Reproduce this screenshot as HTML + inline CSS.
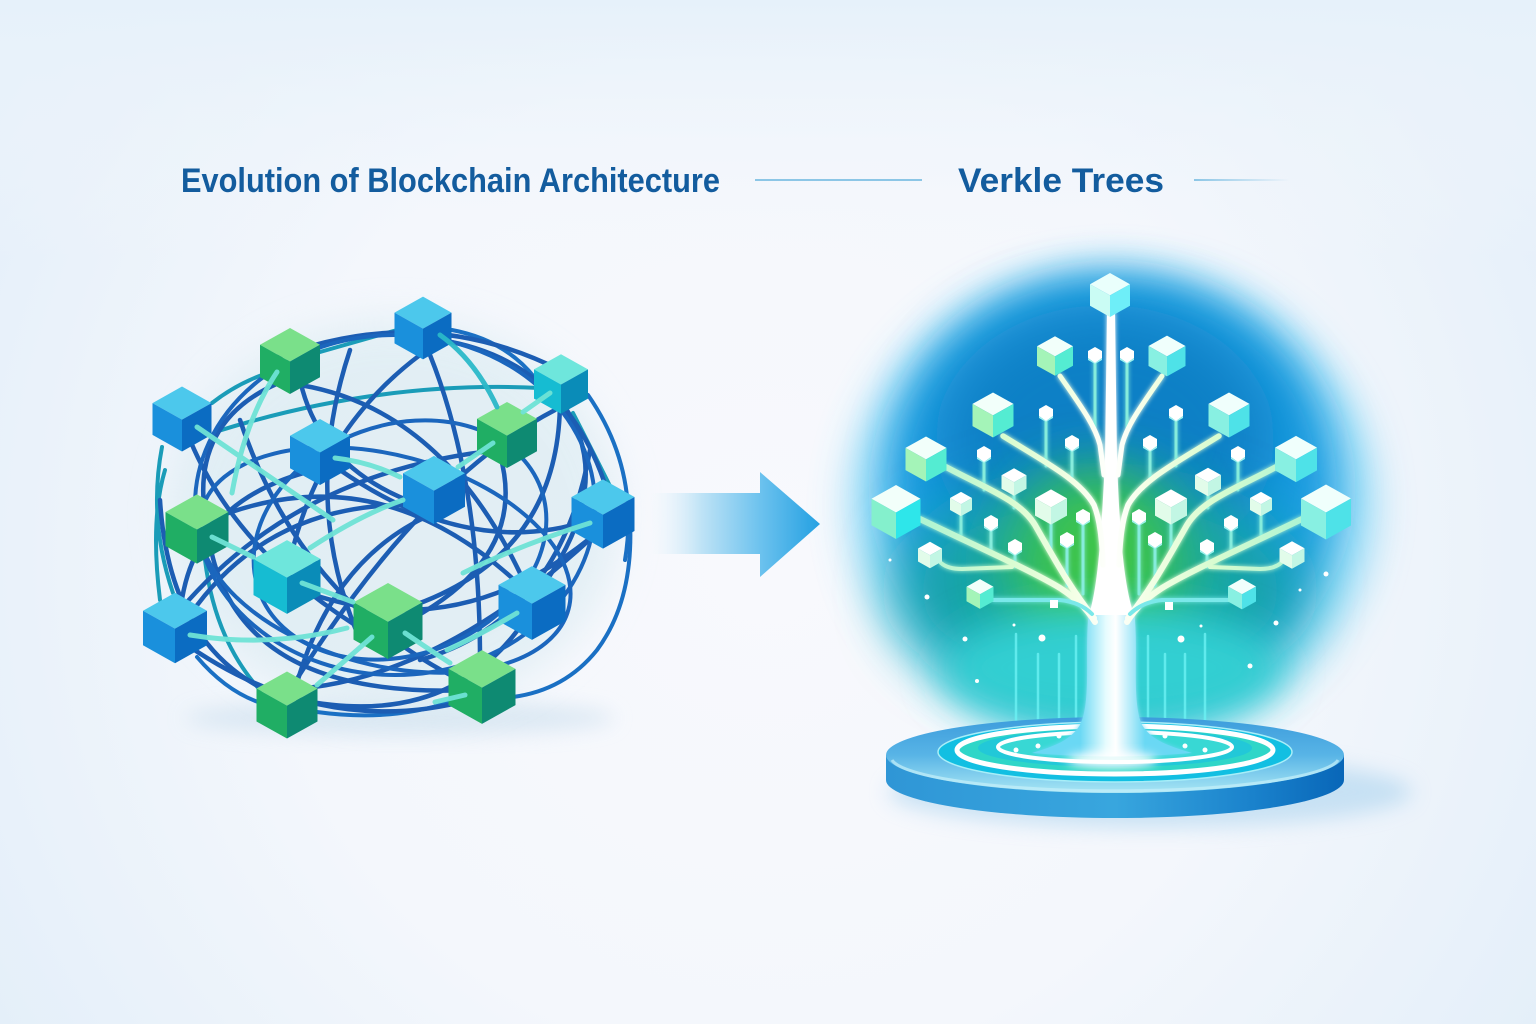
<!DOCTYPE html>
<html><head><meta charset="utf-8">
<style>
html,body{margin:0;padding:0;width:1536px;height:1024px;overflow:hidden;}
body{background:#f4f7fc;}
svg{display:block;}
</style></head>
<body>
<svg width="1536" height="1024" viewBox="0 0 1536 1024" xmlns="http://www.w3.org/2000/svg">
<defs>
  <radialGradient id="bg" cx="768" cy="560" r="900" gradientUnits="userSpaceOnUse">
    <stop offset="0" stop-color="#f8f9fd"/>
    <stop offset="0.55" stop-color="#f4f7fc"/>
    <stop offset="1" stop-color="#e4eff9"/>
  </radialGradient>
  <linearGradient id="topband" x1="0" y1="0" x2="0" y2="1">
    <stop offset="0" stop-color="#e6f1fa"/>
    <stop offset="1" stop-color="#f4f7fc" stop-opacity="0"/>
  </linearGradient>
  <filter id="b30" x="-50%" y="-50%" width="200%" height="200%"><feGaussianBlur stdDeviation="30"/></filter>
  <filter id="b20" x="-50%" y="-50%" width="200%" height="200%"><feGaussianBlur stdDeviation="20"/></filter>
  <filter id="b10" x="-50%" y="-50%" width="200%" height="200%"><feGaussianBlur stdDeviation="10"/></filter>
  <filter id="b5" x="-50%" y="-50%" width="200%" height="200%"><feGaussianBlur stdDeviation="5"/></filter>
  <filter id="glow" x="-20%" y="-20%" width="140%" height="140%">
    <feGaussianBlur stdDeviation="2.5" result="bl"/>
    <feMerge><feMergeNode in="bl"/><feMergeNode in="SourceGraphic"/></feMerge>
  </filter>
  <linearGradient id="arrg" x1="650" y1="0" x2="820" y2="0" gradientUnits="userSpaceOnUse">
    <stop offset="0" stop-color="#e6f3fb" stop-opacity="0"/>
    <stop offset="0.3" stop-color="#bfe3f6"/>
    <stop offset="0.65" stop-color="#6cc2ee"/>
    <stop offset="1" stop-color="#24a0e2"/>
  </linearGradient>
  <linearGradient id="rline" x1="1194" y1="0" x2="1290" y2="0" gradientUnits="userSpaceOnUse">
    <stop offset="0" stop-color="#8cc6e6"/>
    <stop offset="1" stop-color="#8cc6e6" stop-opacity="0"/>
  </linearGradient>
  <linearGradient id="brg" x1="880" y1="0" x2="1110" y2="0" gradientUnits="userSpaceOnUse">
    <stop offset="0" stop-color="#9af0d4"/>
    <stop offset="0.55" stop-color="#d8fcd0"/>
    <stop offset="0.85" stop-color="#f4ffe6"/>
    <stop offset="1" stop-color="#ffffff"/>
  </linearGradient>
  <linearGradient id="trunkg" x1="1080" y1="0" x2="1145" y2="0" gradientUnits="userSpaceOnUse">
    <stop offset="0" stop-color="#6ad8f4"/>
    <stop offset="0.4" stop-color="#e6fcfe"/>
    <stop offset="0.55" stop-color="#ffffff"/>
    <stop offset="1" stop-color="#6ad8f4"/>
  </linearGradient>
  <linearGradient id="sideg" x1="886" y1="0" x2="1344" y2="0" gradientUnits="userSpaceOnUse">
    <stop offset="0" stop-color="#2f96d6"/>
    <stop offset="0.5" stop-color="#38a6de"/>
    <stop offset="0.8" stop-color="#1a82cc"/>
    <stop offset="1" stop-color="#0866b8"/>
  </linearGradient>
  <linearGradient id="topg" x1="0" y1="717" x2="0" y2="793" gradientUnits="userSpaceOnUse">
    <stop offset="0" stop-color="#3c9cdc"/>
    <stop offset="0.5" stop-color="#58b4e6"/>
    <stop offset="1" stop-color="#a8e6f4"/>
  </linearGradient>

  <g id="cBlue"><polygon points="0,-55 50,-27 0,1 -50,-27" fill="#4cc8ec"/><polygon points="-50,-27 0,1 0,55 -50,27" fill="#1a90dc"/><polygon points="50,-27 0,1 0,55 50,27" fill="#0b6cc2"/></g>
  <g id="cGreen"><polygon points="0,-55 50,-27 0,1 -50,-27" fill="#7ae08a"/><polygon points="-50,-27 0,1 0,55 -50,27" fill="#20ae64"/><polygon points="50,-27 0,1 0,55 50,27" fill="#0e8a72"/></g>
  <g id="cCyan"><polygon points="0,-55 50,-27 0,1 -50,-27" fill="#6ee6dc"/><polygon points="-50,-27 0,1 0,55 -50,27" fill="#16bcd2"/><polygon points="50,-27 0,1 0,55 50,27" fill="#0a8cb8"/></g>
  <g id="tL"><polygon points="0,-55 50,-27 0,1 -50,-27" fill="#f2fffa"/><polygon points="-50,-27 0,1 0,55 -50,27" fill="#a4f4b8"/><polygon points="50,-27 0,1 0,55 50,27" fill="#54ecd2"/></g>
  <g id="tF"><polygon points="0,-55 50,-27 0,1 -50,-27" fill="#f2fffa"/><polygon points="-50,-27 0,1 0,55 -50,27" fill="#84f0cc"/><polygon points="50,-27 0,1 0,55 50,27" fill="#2ee6ea"/></g>
  <g id="tR"><polygon points="0,-55 50,-27 0,1 -50,-27" fill="#f0fffc"/><polygon points="-50,-27 0,1 0,55 -50,27" fill="#88f0e2"/><polygon points="50,-27 0,1 0,55 50,27" fill="#4ee2e8"/></g>
  <g id="tP"><polygon points="0,-55 50,-27 0,1 -50,-27" fill="#ffffff"/><polygon points="-50,-27 0,1 0,55 -50,27" fill="#e2fcea"/><polygon points="50,-27 0,1 0,55 50,27" fill="#c2f6e4"/></g>
  <g id="tT"><polygon points="0,-55 50,-27 0,1 -50,-27" fill="#eafffc"/><polygon points="-50,-27 0,1 0,55 -50,27" fill="#cafcf4"/><polygon points="50,-27 0,1 0,55 50,27" fill="#6eeef8"/></g>
  <g id="nd"><polygon points="-7,-4 0,-8 7,-4 7,3 0,8 -7,3" fill="#ffffff"/><polygon points="-7,3 0,8 7,3 7,5 0,9 -7,5" fill="#9cf2ee"/></g>

  <g id="lb" fill="none" stroke-linecap="round">
    <g stroke="#86ecdc" stroke-width="3">
      <path d="M1095,360 V434"/>
      <path d="M1046,418 V466"/>
      <path d="M1072,448 V482"/>
      <path d="M984,459 V490"/>
      <path d="M1014,492 V508"/>
      <path d="M1051,520 V553"/>
      <path d="M961,512 V540"/>
      <path d="M991,528 V553"/>
      <path d="M1015,552 V567"/>
      <path d="M1083,522 V594"/>
      <path d="M1067,545 V586"/>
    </g>
    <g stroke="url(#brg)">
      <path d="M1060,376 C1080,405 1095,425 1100,445 L1104,475" stroke-width="5"/>
      <path d="M1003,436 C1045,462 1080,480 1094,505 C1100,520 1102,540 1103,565" stroke-width="5.5"/>
      <path d="M946,467 C985,488 1020,500 1035,525 C1055,560 1070,588 1094,618" stroke-width="6"/>
      <path d="M920,519 C980,548 1030,570 1060,588 C1075,598 1085,606 1095,622" stroke-width="6"/>
      <path d="M941,563 Q948,569 962,569 L1012,567" stroke-width="4"/>
    </g>
    <path d="M993,600 L1060,600 Q1080,602 1092,614" stroke="#7ae8ea" stroke-width="4"/>
  </g>
</defs>

<rect width="1536" height="1024" fill="url(#bg)"/>
<rect width="1536" height="260" fill="url(#topband)"/>

<text x="181" y="192" font-family="Liberation Sans, sans-serif" font-weight="bold" font-size="34" fill="#135c9e" textLength="539" lengthAdjust="spacingAndGlyphs">Evolution of Blockchain Architecture</text>
<line x1="755" y1="180" x2="922" y2="180" stroke="#8cc6e6" stroke-width="2"/>
<text x="958" y="192" font-family="Liberation Sans, sans-serif" font-weight="bold" font-size="34" fill="#135c9e" textLength="206" lengthAdjust="spacingAndGlyphs">Verkle Trees</text>
<line x1="1194" y1="180" x2="1290" y2="180" stroke="url(#rline)" stroke-width="2"/>

<!-- NETWORK -->
<ellipse cx="400" cy="718" rx="215" ry="18" fill="#c6dcec" opacity="0.55" filter="url(#b10)"/>
<ellipse cx="395" cy="515" rx="225" ry="195" fill="#d6e9f0" opacity="0.6" filter="url(#b20)"/>

<g fill="none" stroke-linecap="round">
  <g stroke="#1a9cb8" stroke-width="4">
    <path d="M162,447 Q148,520 173,593"/>
    <path d="M212,403 Q235,385 262,375"/>
    <path d="M320,352 L397,330"/>
    <path d="M215,432 Q380,380 540,388"/>
    <path d="M573,413 Q592,450 612,490"/>
    <path d="M160,600 Q150,520 165,470"/>
    <path d="M205,560 Q215,640 260,690"/>
  </g>
  <g stroke="#1a70c4" stroke-width="4">
    <path d="M452,330 Q505,340 535,378"/>
    <path d="M630,520 Q634,600 597,650 Q565,690 513,697"/>
    <path d="M197,657 Q225,690 258,702"/>
    <path d="M317,712 Q390,722 450,702"/>
    <path d="M588,395 Q640,470 625,560"/>
  </g>
  <g stroke="#1c5db3" stroke-width="4.5">
    <path d="M190,440 Q240,560 380,640"/>
    <path d="M300,385 Q450,410 530,595"/>
    <path d="M420,355 Q320,430 290,560"/>
    <path d="M430,355 Q480,480 480,660"/>
    <path d="M555,410 Q420,480 290,690"/>
    <path d="M500,450 Q300,470 180,610"/>
    <path d="M600,530 Q430,690 270,690"/>
    <path d="M210,520 Q380,450 525,590"/>
    <path d="M340,470 Q470,560 590,520"/>
    <path d="M430,515 Q330,560 295,690"/>
    <path d="M180,640 Q320,740 470,700"/>
    <path d="M300,590 Q460,650 600,530"/>
    <path d="M400,610 Q560,560 560,400"/>
    <path d="M300,375 Q190,410 205,515"/>
    <path d="M440,340 Q570,360 610,500"/>
    <path d="M180,615 Q190,500 315,470"/>
    <path d="M300,700 Q450,730 525,620"/>
    <path d="M210,545 Q240,700 470,690"/>
    <path d="M420,505 Q270,500 190,615"/>
    <path d="M500,455 Q530,560 400,625"/>
    <path d="M300,380 Q320,470 420,505"/>
    <path d="M560,400 Q620,480 540,590"/>
    <path d="M160,500 Q170,660 290,700"/>
    <path d="M270,360 Q420,300 560,370"/>
    <path d="M240,420 Q300,600 460,680"/>
    <path d="M350,350 Q300,500 360,640"/>
    <path d="M590,450 Q560,620 420,660"/>
  </g>
  <g stroke="#1b66bd" stroke-width="4">
    <ellipse cx="400" cy="540" rx="150" ry="115" transform="rotate(-20 400 540)"/>
    <ellipse cx="385" cy="560" rx="190" ry="105" transform="rotate(15 385 560)"/>
    <ellipse cx="395" cy="505" rx="200" ry="170"/>
  </g>
</g>

<use href="#cBlue" transform="translate(423,328) scale(0.57)"/>
<use href="#cGreen" transform="translate(290,361) scale(0.60)"/>
<use href="#cCyan" transform="translate(561,384) scale(0.54)"/>
<use href="#cBlue" transform="translate(182,419) scale(0.59)"/>
<use href="#cGreen" transform="translate(507,435) scale(0.60)"/>
<use href="#cBlue" transform="translate(320,452) scale(0.60)"/>
<use href="#cBlue" transform="translate(434,490) scale(0.62)"/>
<use href="#cBlue" transform="translate(603,514) scale(0.63)"/>
<use href="#cGreen" transform="translate(197,529) scale(0.63)"/>
<use href="#cCyan" transform="translate(287,577) scale(0.67)"/>
<use href="#cBlue" transform="translate(175,628) scale(0.64)"/>
<use href="#cGreen" transform="translate(388,621) scale(0.69)"/>
<use href="#cBlue" transform="translate(532,603) scale(0.67)"/>
<use href="#cGreen" transform="translate(287,705) scale(0.61)"/>
<use href="#cGreen" transform="translate(482,687) scale(0.67)"/>

<g fill="none" stroke="#6fe3d6" stroke-width="5" stroke-linecap="round" opacity="0.95">
  <path d="M197,427 L333,520"/>
  <path d="M277,372 Q245,420 232,493"/>
  <path d="M335,458 Q370,462 400,477"/>
  <path d="M458,467 L493,443"/>
  <path d="M523,412 L550,393"/>
  <path d="M440,335 Q475,360 497,407" stroke="#2ab8c8"/>
  <path d="M212,537 L253,557"/>
  <path d="M310,548 Q360,515 403,500"/>
  <path d="M302,583 L353,602"/>
  <path d="M190,635 Q270,648 347,628"/>
  <path d="M590,523 Q520,545 463,573"/>
  <path d="M517,613 Q480,635 447,650"/>
  <path d="M372,637 Q340,665 317,685"/>
  <path d="M405,633 Q430,650 450,663"/>
  <path d="M465,695 L435,702"/>
</g>

<!-- ARROW -->
<polygon points="650,493 760,493 760,472 820,524 760,577 760,554 650,554" fill="url(#arrg)"/>

<!-- TREE GLOW -->
<ellipse cx="1112" cy="505" rx="262" ry="238" fill="#8ad8f6" opacity="0.9" filter="url(#b20)"/>
<ellipse cx="1112" cy="488" rx="225" ry="210" fill="#1a9ee2" filter="url(#b20)"/>
<ellipse cx="1105" cy="440" rx="170" ry="135" fill="#0a80c6" filter="url(#b30)"/>
<ellipse cx="1100" cy="590" rx="200" ry="108" fill="#12a4a8" filter="url(#b30)"/>
<ellipse cx="1098" cy="565" rx="85" ry="95" fill="#3cc44c" filter="url(#b30)"/>
<ellipse cx="1112" cy="668" rx="170" ry="62" fill="#32cfd2" filter="url(#b20)"/>

<g stroke="#6cf2f4" stroke-width="2.5" opacity="0.8" stroke-linecap="round">
  <line x1="1016" y1="634" x2="1016" y2="750"/>
  <line x1="1038" y1="654" x2="1038" y2="746"/>
  <line x1="1059" y1="654" x2="1059" y2="736"/>
  <line x1="1076" y1="636" x2="1076" y2="721"/>
  <line x1="1148" y1="636" x2="1148" y2="721"/>
  <line x1="1165" y1="654" x2="1165" y2="736"/>
  <line x1="1185" y1="654" x2="1185" y2="746"/>
  <line x1="1205" y1="634" x2="1205" y2="750"/>
</g>

<!-- PLATFORM -->
<ellipse cx="1150" cy="792" rx="262" ry="36" fill="#9fcdec" opacity="0.5" filter="url(#b10)"/>
<path d="M886,755 L886,780 A229,38 0 0 0 1344,780 L1344,755 Z" fill="url(#sideg)"/>
<ellipse cx="1115" cy="755" rx="229" ry="38" fill="url(#topg)"/>
<path d="M892,760 A224,34 0 0 0 1338,760" fill="none" stroke="#c4f0fa" stroke-width="3" opacity="0.7"/>
<ellipse cx="1115" cy="752" rx="177" ry="30" fill="#12bfe2" stroke="#a8eef8" stroke-width="1.5"/>
<ellipse cx="1115" cy="750" rx="158" ry="24" fill="#2fd6c8" stroke="#ffffff" stroke-width="5"/>
<ellipse cx="1115" cy="748" rx="137" ry="19" fill="#22c8d8"/>
<ellipse cx="1115" cy="747" rx="117" ry="15" fill="#38d8d4" stroke="#ffffff" stroke-width="4"/>

<g fill="#ffffff">
  <circle cx="1016" cy="750" r="2.5"/><circle cx="1038" cy="746" r="2.5"/><circle cx="1059" cy="736" r="2.5"/>
  <circle cx="1205" cy="750" r="2.5"/><circle cx="1185" cy="746" r="2.5"/><circle cx="1165" cy="736" r="2.5"/>
</g>

<!-- TREE -->
<g filter="url(#glow)">
  <path d="M1089,610 C1084,650 1092,700 1080,725 C1070,742 1048,748 1032,753 Q1112,760 1192,753 C1176,748 1152,742 1142,725 C1131,700 1139,650 1134,610 Z" fill="url(#trunkg)"/>
  <path d="M1107,312 L1115,312 L1117,460 C1120,540 1124,585 1134,615 L1089,615 C1098,585 1101,540 1105,460 Z" fill="#ffffff"/>
  <use href="#lb"/>
  <use href="#lb" transform="matrix(-1,0,0,1,2222,0)"/>
</g>
<ellipse cx="1112" cy="760" rx="45" ry="8" fill="#ffffff" filter="url(#b5)"/>

<use href="#tT" transform="translate(1110,295) scale(0.40)"/>
<use href="#tL" transform="translate(1055,356) scale(0.36)"/>
<use href="#tL" transform="translate(993,415) scale(0.41)"/>
<use href="#tL" transform="translate(926,459) scale(0.41)"/>
<use href="#tP" transform="translate(1014,482) scale(0.25)"/>
<use href="#tP" transform="translate(1051,507) scale(0.32)"/>
<use href="#tF" transform="translate(896,512) scale(0.49)"/>
<use href="#tP" transform="translate(930,555) scale(0.24)"/>
<use href="#tL" transform="translate(980,594) scale(0.27)"/>
<use href="#tP" transform="translate(961,504) scale(0.22)"/>

<use href="#tR" transform="translate(1167,356) scale(0.37)"/>
<use href="#tR" transform="translate(1229,415) scale(0.41)"/>
<use href="#tR" transform="translate(1296,459) scale(0.42)"/>
<use href="#tP" transform="translate(1208,482) scale(0.26)"/>
<use href="#tP" transform="translate(1171,507) scale(0.32)"/>
<use href="#tR" transform="translate(1326,512) scale(0.50)"/>
<use href="#tP" transform="translate(1292,555) scale(0.25)"/>
<use href="#tR" transform="translate(1242,594) scale(0.28)"/>
<use href="#tP" transform="translate(1261,504) scale(0.22)"/>

<use href="#nd" transform="translate(1095,355)"/>
<use href="#nd" transform="translate(1046,413)"/>
<use href="#nd" transform="translate(1072,443)"/>
<use href="#nd" transform="translate(984,454)"/>
<use href="#nd" transform="translate(991,523)"/>
<use href="#nd" transform="translate(1015,547)"/>
<use href="#nd" transform="translate(1083,517)"/>
<use href="#nd" transform="translate(1067,540)"/>
<use href="#nd" transform="translate(1127,355)"/>
<use href="#nd" transform="translate(1176,413)"/>
<use href="#nd" transform="translate(1150,443)"/>
<use href="#nd" transform="translate(1238,454)"/>
<use href="#nd" transform="translate(1231,523)"/>
<use href="#nd" transform="translate(1207,547)"/>
<use href="#nd" transform="translate(1139,517)"/>
<use href="#nd" transform="translate(1155,540)"/>

<g fill="#ffffff">
  <circle cx="890" cy="560" r="1.5"/><circle cx="927" cy="597" r="2.5"/><circle cx="1014" cy="625" r="1.5"/>
  <circle cx="965" cy="639" r="2.5"/><circle cx="1042" cy="638" r="3.5"/><circle cx="977" cy="681" r="2"/>
  <circle cx="1326" cy="574" r="2.5"/><circle cx="1300" cy="590" r="1.5"/><circle cx="1276" cy="623" r="2.5"/>
  <circle cx="1201" cy="626" r="1.5"/><circle cx="1181" cy="639" r="3.5"/><circle cx="1250" cy="666" r="2.5"/>
  <rect x="1050" y="600" width="8" height="8"/><rect x="1165" y="602" width="8" height="8"/>
</g>
</svg>
</body></html>
